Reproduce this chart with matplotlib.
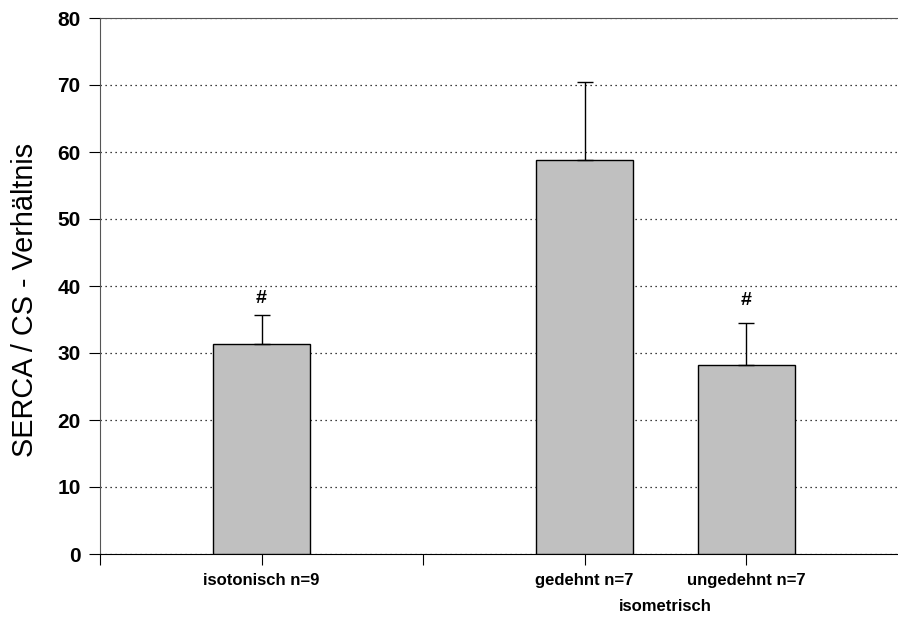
import matplotlib
matplotlib.use("Agg")
import matplotlib.pyplot as plt

categories = ["isotonisch n=9", "", "gedehnt n=7", "ungedehnt n=7"]
positions = [1, 2, 3, 4]
values = [31.3, None, 58.8, 28.2]
errors = [4.4, None, 11.7, 6.3]
marks = ["#", None, None, "#"]
mark_levels = [38.2, None, None, 37.9]
group_label = "isometrisch"
yticks = [0, 10, 20, 30, 40, 50, 60, 70, 80]

plt.rcParams['font.family'] = ['Liberation Sans', 'DejaVu Sans']

fig = plt.figure(figsize=(8.98, 6.21), dpi=100)
ax = fig.add_axes([100/898, 1-554/621, 1-100/898, (554-18)/621])

bx = [p for p, v in zip(positions, values) if v is not None]
bv = [v for v in values if v is not None]
be = [e for e in errors if e is not None]
ax.bar(bx, bv, width=0.6, color="#c0c0c0", edgecolor="black", linewidth=1.0, zorder=3)
ax.errorbar(bx, bv, yerr=[[0]*len(be), be], fmt="none", ecolor="black",
            elinewidth=1.0, capsize=5.5, capthick=1.0, zorder=4)
for p, lvl, m in zip(positions, mark_levels, marks):
    if m:
        ax.text(p, lvl, m, ha="center", va="center", fontsize=14, fontweight="bold")

ax.set_xlim(0, 4.94)
ax.set_ylim(0, 80)
ax.set_yticks(yticks)
ax.set_yticklabels([str(t) for t in yticks], fontsize=15, fontweight="bold")
ax.set_xticks([0] + positions)
ax.set_xticklabels([""] + categories, fontsize=12, fontweight="bold")
ax.tick_params(axis="x", length=8, width=0.8, pad=6)
ax.tick_params(axis="y", length=8, width=0.8, pad=6)
ax.yaxis.grid(True, linestyle=(0, (1, 3)), color="black", linewidth=0.9, zorder=0)
ax.set_axisbelow(True)
ax.spines["right"].set_visible(False)
ax.spines["top"].set_color("#555555")
ax.spines["left"].set_color("#555555")
ax.set_ylabel("SERCA / CS - Verhältnis", fontsize=20.8, va="center")
ax.yaxis.set_label_coords(-0.0945, 0.474)
ax.text(3.5, -0.098, group_label, transform=ax.get_xaxis_transform(), ha="center",
        va="center", fontsize=12, fontweight="bold")

fig.savefig("out.png", dpi=100)
